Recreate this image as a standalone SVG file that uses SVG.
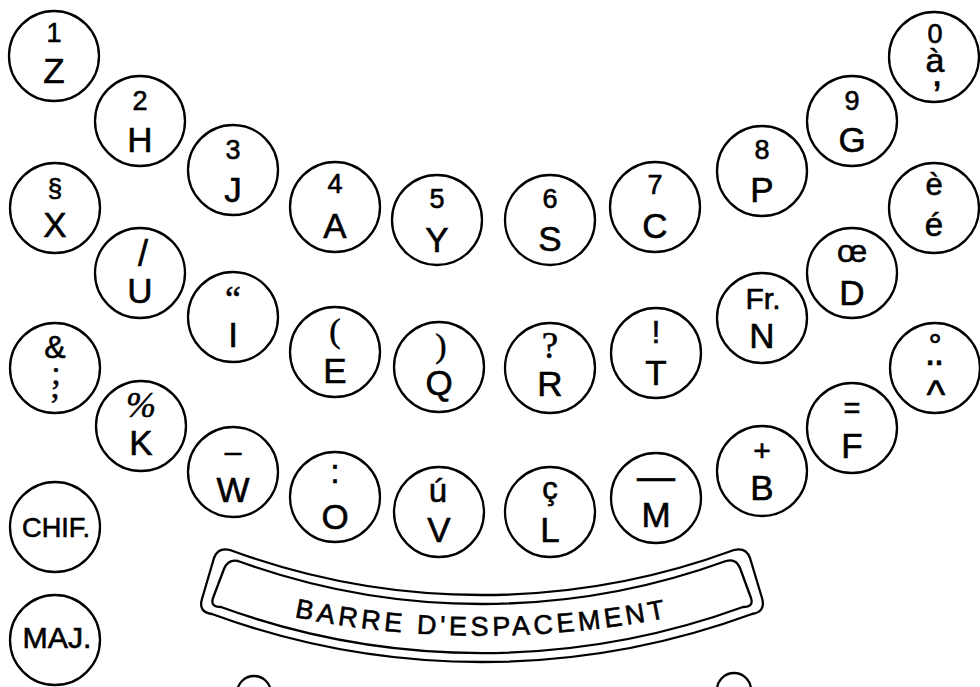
<svg xmlns="http://www.w3.org/2000/svg" width="980" height="687" viewBox="0 0 980 687">
<style>
  .k { fill: #fff; stroke: #000; stroke-width: 2.3; }
  .t { font-family: "Liberation Sans", Arial, sans-serif; fill: #000; stroke: #000; stroke-width: 0.6; text-anchor: middle; }
  .d { font-size: 27px; }
  .l { font-size: 35px; }
  .s { font-family: "Liberation Serif", "Times New Roman", serif; fill: #000; stroke: #000; stroke-width: 0.5; text-anchor: middle; }
  .bar { fill: none; stroke: #000; stroke-width: 2.3; stroke-linejoin: round; }
</style>
<defs>
  <path id="barText" d="M 250,607 A 950 950 0 0 0 714,607"/>
</defs>
<rect width="980" height="687" fill="#fff"/>

<g id="key-Z"><circle class="k" cx="54" cy="56" r="45"/><text class="t d" x="54" y="42">1</text><text class="t l" x="54" y="83">Z</text></g>
<g id="key-H"><circle class="k" cx="140" cy="121" r="45"/><text class="t d" x="140" y="110">2</text><text class="t l" x="140" y="152">H</text></g>
<g id="key-J"><circle class="k" cx="233" cy="170" r="45"/><text class="t d" x="233" y="159">3</text><text class="t l" x="233" y="202">J</text></g>
<g id="key-A"><circle class="k" cx="335" cy="207" r="45"/><text class="t d" x="335" y="193">4</text><text class="t l" x="335" y="238">A</text></g>
<g id="key-Y"><circle class="k" cx="437" cy="220" r="45"/><text class="t d" x="437" y="208">5</text><text class="t l" x="437" y="252">Y</text></g>
<g id="key-S"><circle class="k" cx="550" cy="220" r="45"/><text class="t d" x="550" y="208">6</text><text class="t l" x="550" y="251">S</text></g>
<g id="key-C"><circle class="k" cx="655" cy="207" r="45"/><text class="t d" x="655" y="194">7</text><text class="t l" x="655" y="238">C</text></g>
<g id="key-P"><circle class="k" cx="762" cy="171" r="45"/><text class="t d" x="762" y="159">8</text><text class="t l" x="762" y="202">P</text></g>
<g id="key-G"><circle class="k" cx="852" cy="121" r="45"/><text class="t d" x="852" y="110">9</text><text class="t l" x="852" y="152">G</text></g>
<g id="key-a-grave"><circle class="k" cx="934" cy="57" r="45"/><text class="t"><tspan font-size="27" x="935" y="43">0</tspan><tspan font-size="34" x="935" y="72">à</tspan><tspan font-size="40" x="937" y="86">,</tspan></text></g>

<g id="key-X"><circle class="k" cx="55" cy="208" r="45"/><text class="t" font-size="26" x="55" y="197">§</text><text class="t l" x="55" y="237">X</text></g>
<g id="key-U"><circle class="k" cx="140" cy="273" r="45"/><text class="t" font-size="36" stroke-width="0" x="143" y="266">/</text><text class="t l" x="140" y="303">U</text></g>
<g id="key-I"><circle class="k" cx="233" cy="317" r="45"/><text class="s" font-size="36" x="233" y="311">“</text><text class="t l" x="233" y="347">I</text></g>
<g id="key-E"><circle class="k" cx="335" cy="352" r="45"/><text class="s" font-size="34" x="335" y="342">(</text><text class="t l" x="335" y="383">E</text></g>
<g id="key-Q"><circle class="k" cx="439" cy="367" r="45"/><text class="s" font-size="34" x="441" y="357">)</text><text class="t l" x="439" y="395">Q</text></g>
<g id="key-R"><circle class="k" cx="550" cy="368" r="45"/><text class="s" font-size="37" x="550" y="358">?</text><text class="t l" x="550" y="396">R</text></g>
<g id="key-T"><circle class="k" cx="656" cy="353" r="45"/><text class="t" font-size="32" x="656" y="343">!</text><text class="t l" x="656" y="385">T</text></g>
<g id="key-N"><circle class="k" cx="762" cy="318" r="45"/><text class="t" font-size="30" x="763" y="309">Fr.</text><text class="t l" x="762" y="348">N</text></g>
<g id="key-D"><circle class="k" cx="852" cy="273" r="45"/><text class="t" font-size="32" x="852" y="262">œ</text><text class="t l" x="852" y="305">D</text></g>
<g id="key-e-accents"><circle class="k" cx="934" cy="208" r="45"/><text class="t" font-size="31" x="934" y="195">è</text><text class="t" font-size="33" x="934" y="236">é</text></g>

<g id="key-amp"><circle class="k" cx="55" cy="368" r="45"/><text class="t" font-size="32" x="55" y="358">&amp;</text><text class="s"><tspan font-size="34" x="56" y="384">;</tspan><tspan font-size="34" x="55" y="398">,</tspan></text></g>
<g id="key-K"><circle class="k" cx="141" cy="426" r="45"/><text class="s" font-size="36" x="141" y="417" font-style="italic">%</text><text class="t l" x="141" y="455">K</text></g>
<g id="key-W"><circle class="k" cx="233" cy="472" r="45"/><text class="t" font-size="30" x="233" y="462">–</text><text class="t l" x="233" y="502">W</text></g>
<g id="key-O"><circle class="k" cx="335" cy="497" r="45"/><text class="t" font-size="34" x="335" y="483">:</text><text class="t l" x="335" y="529">O</text></g>
<g id="key-V"><circle class="k" cx="439" cy="512" r="45"/><text class="t" font-size="33" x="438" y="502">ú</text><text class="t l" x="439" y="542">V</text></g>
<g id="key-L"><circle class="k" cx="550" cy="512" r="45"/><text class="t" font-size="31" x="550" y="499">ç</text><text class="t l" x="550" y="542">L</text></g>
<g id="key-M"><circle class="k" cx="656" cy="498" r="45"/><text class="t" font-size="38" x="656" y="490">—</text><text class="t l" x="656" y="527">M</text></g>
<g id="key-B"><circle class="k" cx="762" cy="471" r="45"/><text class="t" font-size="30" x="762" y="461">+</text><text class="t l" x="762" y="500">B</text></g>
<g id="key-F"><circle class="k" cx="852" cy="428" r="45"/><text class="t" font-size="29" x="852" y="418">=</text><text class="t l" x="852" y="458">F</text></g>
<g id="key-dead"><circle class="k" cx="935" cy="368" r="45"/><text class="t"><tspan font-size="33" x="935" y="357">°</tspan><tspan font-size="46" x="935" y="393">¨</tspan><tspan font-size="40" x="936" y="408">^</tspan></text></g>

<g id="key-CHIF"><circle class="k" cx="55" cy="527" r="45"/><text class="t" font-size="28" x="56" y="537" textLength="68" lengthAdjust="spacingAndGlyphs">CHIF.</text></g>
<g id="key-MAJ"><circle class="k" cx="55" cy="640" r="45"/><text class="t" font-size="29" x="57" y="648" textLength="69" lengthAdjust="spacingAndGlyphs">MAJ.</text></g>

<g id="space-bar">
  <path class="bar" d="M 230,550 A 728 728 0 0 0 734,550 Q 746,547 750,558 L 762,598 Q 766,612 752,614 A 783 783 0 0 1 212,614 Q 198,612 202,599 L 214,558 Q 218,547 230,550 Z"/>
  <path class="bar" d="M 238,561 A 714 714 0 0 0 726,561 Q 736,558 740,568 L 751,598 Q 754,607 743,607 A 763 763 0 0 1 221,607 Q 210,607 213,598 L 224,569 Q 228,559 238,561 Z"/>
  <text class="t" font-size="27" stroke-width="0.3" letter-spacing="3.8"><textPath href="#barText" startOffset="50%">BARRE D'ESPACEMENT</textPath></text>
</g>

<g id="screws">
  <circle class="k" cx="254" cy="693" r="17"/>
  <circle class="k" cx="734" cy="690" r="17"/>
</g>
</svg>
